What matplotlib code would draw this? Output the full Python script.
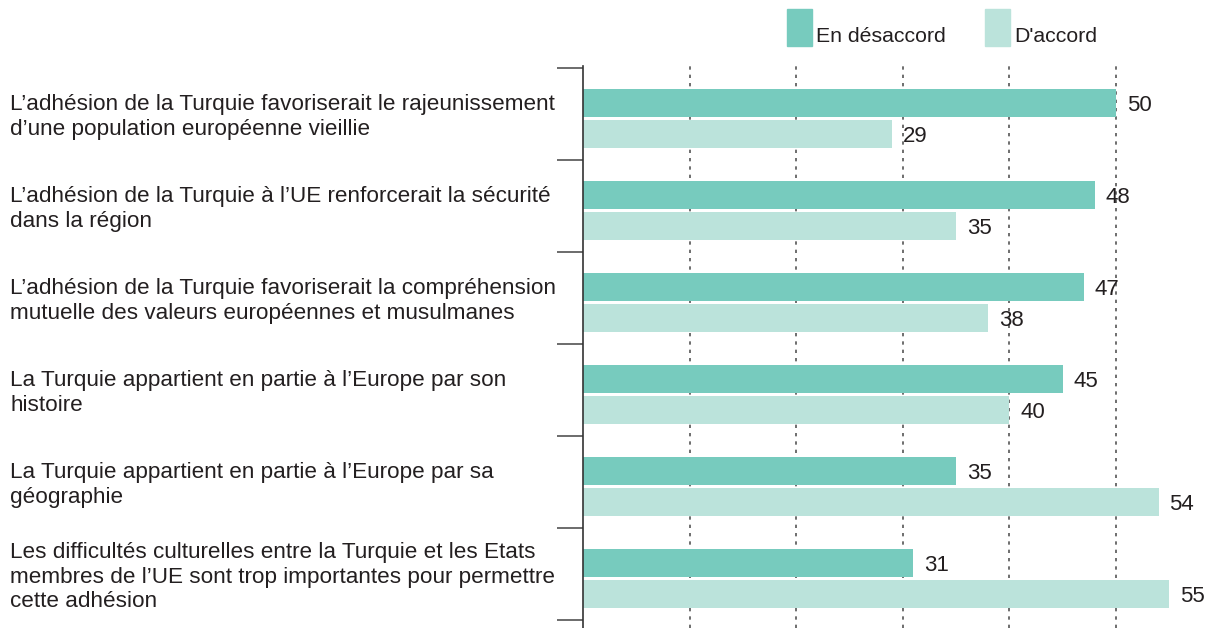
import matplotlib.pyplot as plt
from matplotlib.patches import Rectangle
from matplotlib.transforms import blended_transform_factory

plt.rcParams['font.family'] = ['Liberation Sans', 'DejaVu Sans']

statements = [
    "L\u2019adhésion de la Turquie favoriserait le rajeunissement\nd\u2019une population européenne vieillie",
    "L\u2019adhésion de la Turquie à l\u2019UE renforcerait la sécurité\ndans la région",
    "L\u2019adhésion de la Turquie favoriserait la compréhension\nmutuelle des valeurs européennes et musulmanes",
    "La Turquie appartient en partie à l\u2019Europe par son\nhistoire",
    "La Turquie appartient en partie à l\u2019Europe par sa\ngéographie",
    "Les difficultés culturelles entre la Turquie et les Etats\nmembres de l\u2019UE sont trop importantes pour permettre\ncette adhésion",
]
desaccord = [50, 48, 47, 45, 35, 31]
accord = [29, 35, 38, 40, 54, 55]
series_names = ["En désaccord", "D'accord"]

c_dark = '#77cbbe'
c_light = '#bbe3db'
txt = '#231f20'

W, H = 1219, 628
fig = plt.figure(figsize=(W / 100, H / 100), dpi=100)
# axes from x=583 to 1180 px, y=66 to 628 px
ax = fig.add_axes([583 / W, 0, (1180 - 583) / W, (628 - 66) / H])
ax.set_xlim(0, 56)
ax.set_ylim(6 + 8 / 92, -2 / 92)

h = 28 / 92
for i in range(len(statements)):
    ax.barh(i + 35 / 92, desaccord[i], height=h, color=c_dark, zorder=2)
    ax.barh(i + 66 / 92, accord[i], height=h, color=c_light, zorder=2)
    ax.text(desaccord[i] + 1.0, i + 35 / 92, str(desaccord[i]), va='center_baseline', ha='left',
            fontsize=16, color=txt)
    ax.text(accord[i] + 1.0, i + 66 / 92, str(accord[i]), va='center_baseline', ha='left',
            fontsize=16, color=txt)

trans = blended_transform_factory(fig.transFigure, ax.transData)
for i, s in enumerate(statements):
    ax.text(10 / W, i + 0.5 + 3 / 92, s, transform=trans, ha='left', va='center',
            fontsize=16.2, color=txt, linespacing=1.22)

ax.set_xticks([10, 20, 30, 40, 50])
ax.xaxis.grid(True, linestyle=(0, (2, 3)), color='#555555', linewidth=1.2, zorder=0)
ax.set_axisbelow(True)
ax.tick_params(axis='x', length=0, labelbottom=False)
ax.set_yticks(range(7))
ax.set_yticklabels([])
ax.tick_params(axis='y', direction='out', length=19, width=1.1, color='#444444')
for sp in ['top', 'right', 'bottom']:
    ax.spines[sp].set_visible(False)
ax.spines['left'].set_color('#333333')
ax.spines['left'].set_linewidth(1.2)

# legend
for x0, col, name in [(787, c_dark, series_names[0]), (985, c_light, series_names[1])]:
    fig.patches.append(Rectangle((x0 / W, 1 - 46 / H), 25 / W, 37 / H,
                                 transform=fig.transFigure, color=col))
    fig.text((x0 + 29) / W, 1 - 34 / H, name, ha='left', va='center_baseline', fontsize=15.3, color=txt)

fig.savefig('out.png', dpi=100)
